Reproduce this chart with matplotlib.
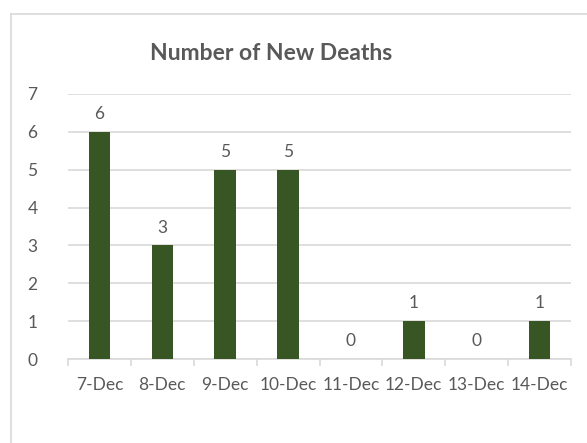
import matplotlib.pyplot as plt
from matplotlib.lines import Line2D

dates = ['7-Dec', '8-Dec', '9-Dec', '10-Dec', '11-Dec', '12-Dec', '13-Dec', '14-Dec']
new_deaths = [6, 3, 5, 5, 0, 1, 0, 1]

plt.rcParams['font.family'] = ['Lato', 'DejaVu Sans']
text_color = '#595959'
bar_color = '#375623'
grid_color = '#d9d9d9'

W, H = 587, 443
fig = plt.figure(figsize=(W / 100, H / 100), dpi=100)

# chart border (only top and left edges fall inside the picture)
fig.add_artist(Line2D([10.5 / W, 10.5 / W], [0, 1 - 14 / H], color=grid_color, lw=1.2,
                      transform=fig.transFigure))
fig.add_artist(Line2D([10.5 / W, 1], [1 - 14 / H, 1 - 14 / H], color=grid_color, lw=1.2,
                      transform=fig.transFigure))

ax = fig.add_axes([68 / W, 84 / H, 503 / W, 265 / H])
x = range(len(dates))
bars = ax.bar(x, new_deaths, width=0.34, color=bar_color, zorder=3)

ax.set_xlim(-0.5, len(dates) - 0.5)
ax.set_ylim(0, 7)
ax.set_yticks(range(0, 8))
ax.yaxis.grid(True, color=grid_color, lw=1.2, zorder=0)
for s in ['top', 'right', 'left']:
    ax.spines[s].set_visible(False)
ax.spines['bottom'].set_color(grid_color)
ax.spines['bottom'].set_linewidth(1.2)

ax.set_xticks(x)
ax.set_xticklabels(dates)
ax.set_xticks([i - 0.5 for i in range(len(dates) + 1)], minor=True)
ax.tick_params(axis='x', which='major', length=0, pad=13, labelsize=12.5, labelcolor=text_color)
ax.tick_params(axis='x', which='minor', length=5, width=1.2, color=grid_color)
ax.tick_params(axis='y', length=0, pad=22, labelsize=12.5, labelcolor=text_color)

for i, v in enumerate(new_deaths):
    ax.annotate(str(v), (i, v), xytext=(0, 7), textcoords='offset points',
                ha='center', va='bottom', fontsize=12.5, color=text_color)

fig.text(271 / W, 1 - 53 / H, 'Number of New Deaths', ha='center', va='center',
         fontsize=16.5, fontweight='bold', color=text_color)

fig.savefig('out.png', dpi=100)
